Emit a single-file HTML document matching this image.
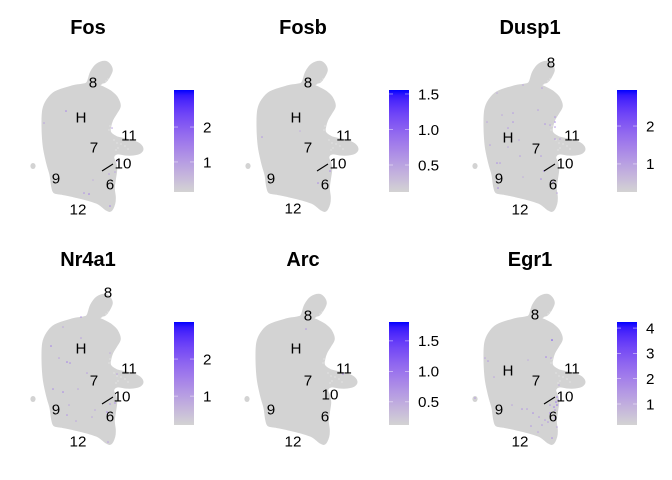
<!DOCTYPE html>
<html>
<head>
<meta charset="utf-8">
<style>
html,body{margin:0;padding:0;background:#fff;}
svg{display:block;font-family:"Liberation Sans",sans-serif;}
</style>
</head>
<body>
<svg id="chart" width="672" height="480" viewBox="0 0 672 480" xmlns="http://www.w3.org/2000/svg">
<defs>
<linearGradient id="expr-grad" x1="0" y1="1" x2="0" y2="0"></linearGradient>
</defs>
</svg>
<script>
var genes = ['Fos','Fosb','Dusp1','Nr4a1','Arc','Egr1'];
var scaleMin = [0.14,0.12,0.26,0.22,0.12,0.17];
var scaleMax = [3.06,1.556,2.95,3.0,1.81,4.24];
var tickLabels = [['1','2'],['0.5','1.0','1.5'],['1','2'],['1','2'],['0.5','1.0','1.5'],['1','2','3','4']];
var clusterNames = ['8','H','7','11','10','9','6','12'];
var labelsFos = [[6.3,13.3],[5.1,9.8],[6.4,6.8],[9.9,8],[9.3,5.2],[2.6,3.7],[8,3.1],[4.8,0.6]];
var labelsFosb = [[6.3,13.3],[5.1,9.8],[6.3,6.8],[9.9,8],[9.3,5.2],[2.6,3.7],[8,3.1],[4.8,0.7]];
var labelsDusp1 = [[7.9,15.3],[3.6,7.8],[6.4,6.7],[10,8],[9.3,5.2],[2.7,3.7],[8.1,3.1],[4.8,0.6]];
var labelsNr4a1 = [[7.8,15.6],[5.1,10],[6.4,6.8],[9.9,8],[9.2,5.2],[2.6,3.9],[8,3.2],[4.8,0.7]];
var labelsArc = [[6.4,13.3],[5.2,10],[6.4,6.8],[10,8],[8.6,5.4],[2.7,3.9],[8.1,3.2],[4.9,0.7]];
var labelsEgr1 = [[6.3,13.4],[3.6,7.8],[6.4,6.8],[10,8],[9.3,5.2],[2.7,3.9],[8.1,3.2],[4.8,0.7]];
var connectorFrom = [7.2,4.4];
var connectorTo = [8.3,5.1];
var hasConnector = [true,true,true,true,false,true];
var clusterOutline = [[7.5,15.37],[8,15.07],[8.23,14.5],[8,13.9],[7.6,13.33],[7,13],[7.4,12.77],[8.17,12.33],[8.73,11.77],[9.03,10.9],[8.67,10.17],[8.27,9.5],[8.07,8.83],[8.07,8.27],[8.67,7.83],[9.5,7.63],[10.33,7.43],[11,7.1],[11.3,6.6],[11,6.17],[10.33,6],[9.5,6],[8.73,6.1],[8.37,5.77],[8.6,5.17],[8.67,4.5],[8.53,3.5],[8.43,2.67],[8.53,1.83],[8.47,1.1],[8.1,0.4],[7.6,0.5],[6.83,1.1],[5.67,1.5],[4.33,1.83],[3.17,2.07],[2.4,2.23],[2.17,2.83],[2,4],[1.67,5.17],[1.33,6.83],[1.2,8.83],[1.27,10.5],[1.67,11.5],[2.5,12.33],[4.17,12.9],[5.33,13.1],[5.73,13.33],[6.07,14.33],[6.67,15.1]];
var islandCell = [0.3,4.9];
var sparseGaps = [[7.6,13.4],[7.3,13.15],[7.8,13.6],[8.0,8.9],[8.1,8.6],[7.9,8.5],[8.4,7.5],[9.1,7.1],[9.5,6.9],[8.8,6.7],[9.8,6.6],[8.6,6.5],[8.7,7.2]];
var cellsFos = [[3.6,10.4,1.4],[1.4,9.2,0.9],[8.2,8.7,1.0],[5.4,2.2,1.2],[5.9,2.1,1.5],[8,0.9,1.4],[7.9,4.1,0.9],[8.5,4.3,0.8],[8.7,5.4,0.9],[6.3,3.5,0.7]];
var cellsFosb = [[1.7,7.8,0.6],[8.5,4.4,0.7],[7.3,3.2,0.7],[5.5,8.4,0.4]];
var cellsDusp1 = [[4.1,10.2,1.1],[4.1,9.3,1.2],[6.6,10.5,1],[7,12.7,1],[5.1,13,0.9],[2.5,12.2,0.8],[3,10,0.9],[7.3,9.1,1.2],[7.8,9,1],[8.3,9.8,1.2],[8.3,9.3,1.3],[8.3,8.8,1.2],[8.3,7.6,1.2],[8.8,7.6,1],[1.8,7,1],[2.5,5.2,1.3],[2.8,5.2,1.1],[4.8,5.9,1],[6.9,5.9,1.1],[7.2,4.4,1.5],[6.9,3.6,1.3],[2.6,2.7,1.4],[3.6,8.7,1.1],[4.7,7.5,0.9],[1.5,9.3,0.9],[3.6,6.8,0.9],[8.1,3.3,0.9],[8.5,2.2,0.9],[5.1,3.8,0.8]];
var cellsNr4a1 = [[5.1,13.1,1.2],[3.3,12.1,0.9],[2.1,10.2,1.5],[5.1,11,1],[3.7,8.6,1.5],[4,8.5,1.3],[2.9,9,1],[5.7,7.5,1],[2.3,5.9,1.3],[3.3,5.6,1.4],[4.8,5.9,0.9],[3.9,4.3,0.9],[3.7,3.3,1.2],[4.6,2.7,0.9],[8.5,4.5,1.2],[8,4.4,1.1],[7.7,3.6,1.3],[6.5,3.8,0.9],[6.2,3.1,0.9],[8.7,7.4,0.9],[7.8,0.6,1],[8,9.5,0.8]];
var cellsArc = [[6.2,11.9,0.7],[9.9,7.4,0.7]];
var cellsEgr1 = [[8,10.8,3.2],[7.4,9.1,2],[7.9,9,1.2],[1.3,9,1.2],[1.6,8.7,1.5],[2.2,7.1,1.2],[5.6,8.8,1],[0.3,5,1.5],[4,4.3,1.2],[5,3.9,1.6],[5.5,3.9,1.4],[6.1,3.5,1.8],[6.7,3.1,1.5],[8.5,5.1,2],[8.4,4.6,2.3],[8.5,4.3,2.4],[8.2,4.1,2.2],[7.8,3.5,2],[8.3,3,1.6],[7.6,2.6,1.5],[7,2.3,1.5],[5.9,2.2,1.5],[6.6,1.6,1.2],[8,1,1.8],[8.5,2.1,1.2],[7.3,2.8,1.4],[8.7,6.3,1.1],[8.6,4.8,1.8],[8.3,3.8,1.6],[7.8,4.3,1.5]];

var allLabels = [labelsFos,labelsFosb,labelsDusp1,labelsNr4a1,labelsArc,labelsEgr1];
var allCells = [cellsFos,cellsFosb,cellsDusp1,cellsNr4a1,cellsArc,cellsEgr1];

var NS = 'http://www.w3.org/2000/svg';
var svg = document.getElementById('chart');
function mk(tag, attrs, parent) {
  var e = document.createElementNS(NS, tag);
  for (var k in attrs) e.setAttribute(k, attrs[k]);
  parent.appendChild(e);
  return e;
}
// Lab-space interpolation from lightgrey to blue, as in the reference colour scale
function mix(t) {
  t = Math.max(0, Math.min(1, t));
  var L = 84.56 + (32.3 - 84.56) * t, a = 79.2 * t, b = -107.86 * t;
  var fy = (L + 16) / 116, fx = fy + a / 500, fz = fy - b / 200;
  function inv(f) { return f > 6 / 29 ? f * f * f : 3 * (6 / 29) * (6 / 29) * (f - 4 / 29); }
  var X = 0.95047 * inv(fx), Y = inv(fy), Z = 1.08883 * inv(fz);
  var r = 3.2406 * X - 1.5372 * Y - 0.4986 * Z;
  var g = -0.9689 * X + 1.8758 * Y + 0.0415 * Z;
  var bl = 0.0557 * X - 0.204 * Y + 1.057 * Z;
  function gam(c) {
    c = Math.max(0, Math.min(1, c));
    c = c <= 0.0031308 ? 12.92 * c : 1.055 * Math.pow(c, 1 / 2.4) - 0.055;
    return Math.round(c * 255);
  }
  return 'rgb(' + gam(r) + ',' + gam(g) + ',' + gam(bl) + ')';
}
var grad = document.getElementById('expr-grad');
for (var s = 0; s <= 20; s++) {
  mk('stop', {offset: s / 20, 'stop-color': mix(s / 20)}, grad);
}
var panelX = [0,215,442,0,214,442];
var panelY = [0,0,0,233,233,233];
var titleX = [88,303,530,88,303,530];
var titleY = [34,34,34,266,266,266];
var barX = [174,389,617,174,389,617];
var barTop = [90,90,90,322,322,322];
var barH = [102,102,102,103,103,103];

genes.forEach(function (gene, i) {
  function xScale(u) { return panelX[i] + 30 + u * 10; }
  function yScale(v) { return panelY[i] + 215 - v * 10; }

  var g = mk('g', {}, svg);
  
  

  var title = mk('text', {x: titleX[i], y: titleY[i], 'text-anchor': 'middle', 'font-size': 20, 'font-weight': 'bold', fill: '#000'}, g);
  title.textContent = gene;
  
  

  // Closed Catmull-Rom spline through the outline
  var pts = clusterOutline.map(function (p) { return [xScale(p[0]), yScale(p[1])]; });
  var n = pts.length;
  var d = 'M' + pts[0][0].toFixed(1) + ' ' + pts[0][1].toFixed(1);
  for (var j = 0; j < n; j++) {
    var p0 = pts[(j - 1 + n) % n], p1 = pts[j], p2 = pts[(j + 1) % n], p3 = pts[(j + 2) % n];
    d += 'C' + (p1[0] + (p2[0] - p0[0]) / 6).toFixed(1) + ' ' + (p1[1] + (p2[1] - p0[1]) / 6).toFixed(1) +
      ' ' + (p2[0] - (p3[0] - p1[0]) / 6).toFixed(1) + ' ' + (p2[1] - (p3[1] - p1[1]) / 6).toFixed(1) +
      ' ' + p2[0].toFixed(1) + ' ' + p2[1].toFixed(1);
  }
  var body = mk('path', {d: d + 'Z', fill: '#d3d3d3', stroke: '#d3d3d3', 'stroke-width': 1, 'stroke-linejoin': 'round'}, g);
  
  

  var island = mk('ellipse', {cx: xScale(islandCell[0]), cy: yScale(islandCell[1]), rx: 2.6, ry: 3, fill: '#d3d3d3'}, g);
  
  

  sparseGaps.forEach(function (p) {
    var gap = mk('circle', {cx: xScale(p[0]), cy: yScale(p[1]), r: 0.6, fill: '#fff', opacity: 0.55}, g);
    
    
  });

  allCells[i].forEach(function (c) {
    var t = (c[2] - scaleMin[i]) / (scaleMax[i] - scaleMin[i]);
    var dot = mk('circle', {cx: xScale(c[0]), cy: yScale(c[1]), r: 0.8, fill: mix(t)}, g);
    
    
  });

  if (hasConnector[i]) {
    var line = mk('line', {x1: xScale(connectorFrom[0]), y1: yScale(connectorFrom[1]), x2: xScale(connectorTo[0]), y2: yScale(connectorTo[1]), stroke: '#000', 'stroke-width': 1.1}, g);
    
    
  }

  clusterNames.forEach(function (name, j) {
    var p = allLabels[i][j];
    var t = mk('text', {x: xScale(p[0]), y: yScale(p[1]) + 5.3, 'text-anchor': 'middle', 'font-size': 15.2, fill: '#000'}, g);
    t.textContent = name;
    
    
  });

  var bar = mk('rect', {x: barX[i], y: barTop[i], width: 20, height: barH[i], fill: 'url(#expr-grad)'}, g);
  
  

  function barY(v) {
    return barTop[i] + barH[i] * (1 - (v - scaleMin[i]) / (scaleMax[i] - scaleMin[i]));
  }
  tickLabels[i].forEach(function (lab) {
    var y = barY(parseFloat(lab));
    var t1 = mk('line', {x1: barX[i], x2: barX[i] + 4, y1: y, y2: y, stroke: '#fff', 'stroke-width': 0.6, opacity: 0.75}, g);
    
    
    var t2 = mk('line', {x1: barX[i] + 16, x2: barX[i] + 20, y1: y, y2: y, stroke: '#fff', 'stroke-width': 0.6, opacity: 0.75}, g);
    
    
    var tx = mk('text', {x: barX[i] + 29, y: y + 5.3, 'font-size': 15.2, fill: '#000'}, g);
    tx.textContent = lab;
    
    
  });
});
</script>
</body>
</html>
